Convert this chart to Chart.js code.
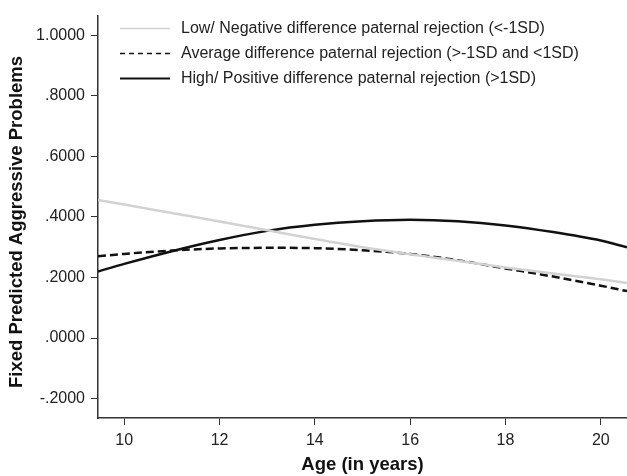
<!DOCTYPE html>
<html lang="en">
  <head>
    <meta charset="UTF-8" />
    <title>Fixed Predicted Aggressive Problems by Age</title>
    <script src="https://cdn.jsdelivr.net/npm/chart.js"></script>
    <style>
      body {
        margin: 0;
        background: #fff;
      }
      .wrap {
        width: 627px;
        height: 476px;
      }
    </style>
  </head>
  <body>
    <div class="wrap"><canvas id="chart" width="627" height="476"></canvas></div>
    <script>
      // ages (years) and fixed predicted values
      const ages = [9.45, 10, 11, 12, 13, 14, 15, 16, 17, 18, 19, 20, 20.55];
      const lowValues = [0.456, 0.441, 0.413, 0.385, 0.356, 0.327, 0.300, 0.277, 0.255, 0.233, 0.213, 0.194, 0.182];
      const avgValues = [0.270, 0.278, 0.289, 0.296, 0.298, 0.297, 0.290, 0.278, 0.257, 0.230, 0.203, 0.173, 0.155];
      const highValues = [0.220, 0.245, 0.287, 0.324, 0.354, 0.374, 0.386, 0.391, 0.386, 0.372, 0.350, 0.322, 0.300];

      const seriesNames = [
        "Low/ Negative difference paternal rejection (<-1SD)",
        "Average difference paternal rejection (>-1SD and <1SD)",
        "High/ Positive difference paternal rejection (>1SD)",
      ];
      const xTicks = [10, 12, 14, 16, 18, 20];
      const yTicks = [-0.2, 0, 0.2, 0.4, 0.6, 0.8, 1.0];
      const yTitle = "Fixed Predicted Aggressive Problems";

      const pts = (vals) => ages.map((a, i) => ({ x: a, y: vals[i] }));
      const font = "'Liberation Sans', Arial, Helvetica, sans-serif";

      // legend in the top-left corner of the plot + rotated y title
      const legendPlugin = {
        id: "cornerLegend",
        afterDraw(chart) {
          const ctx = chart.ctx;
          const rows = [28, 53, 78];
          ctx.save();
          chart.data.datasets.forEach((ds, i) => {
            ctx.beginPath();
            ctx.strokeStyle = ds.borderColor;
            ctx.lineWidth = ds.legendWidth;
            ctx.setLineDash(ds.legendDash);
            ctx.moveTo(120, rows[i] + 0.5);
            ctx.lineTo(170, rows[i] + 0.5);
            ctx.stroke();
            ctx.setLineDash([]);
            ctx.fillStyle = "#222";
            ctx.font = "16px " + font;
            ctx.textBaseline = "middle";
            ctx.fillText(ds.label, 181, rows[i] + 1);
          });

          ctx.translate(17, 222);
          ctx.rotate(-Math.PI / 2);
          ctx.fillStyle = "#111";
          ctx.font = "bold 18.5px " + font;
          ctx.textAlign = "center";
          ctx.textBaseline = "middle";
          ctx.fillText(yTitle, 0, 0);
          ctx.restore();
        },
      };

      new Chart(document.getElementById("chart"), {
        type: "line",
        data: {
          datasets: [
            {
              label: seriesNames[0],
              data: pts(lowValues),
              borderColor: "#d2d2d2",
              borderWidth: 2.5,
              legendWidth: 1.5,
              legendDash: [],
            },
            {
              label: seriesNames[1],
              data: pts(avgValues),
              borderColor: "#111",
              borderWidth: 2.5,
              borderDash: [8, 4],
              legendWidth: 1.5,
              legendDash: [5, 4],
            },
            {
              label: seriesNames[2],
              data: pts(highValues),
              borderColor: "#111",
              borderWidth: 2.5,
              legendWidth: 2,
              legendDash: [],
            },
          ],
        },
        options: {
          responsive: false,
          animation: false,
          layout: { padding: { left: 0, top: 14, right: 0, bottom: 0 } },
          elements: {
            point: { radius: 0 },
            line: { cubicInterpolationMode: "monotone", fill: false },
          },
          plugins: {
            legend: { display: false },
            tooltip: { enabled: false },
          },
          scales: {
            x: {
              type: "linear",
              min: 9.45,
              max: 20.55,
              afterBuildTicks: (s) => {
                s.ticks = xTicks.map((v) => ({ value: v }));
              },
              afterFit: (s) => {
                s.height = 58;
              },
              grid: { drawOnChartArea: false, tickLength: 7, color: "#333" },
              border: { color: "#333", width: 1.5 },
              ticks: {
                color: "#222",
                font: { family: font, size: 16 },
                padding: 6,
                maxRotation: 0,
              },
              title: {
                display: true,
                text: "Age (in years)",
                color: "#111",
                font: { family: font, size: 18.5, weight: "bold" },
                padding: { top: 0, bottom: 0 },
              },
            },
            y: {
              min: -0.264,
              max: 1.065,
              afterBuildTicks: (s) => {
                s.ticks = yTicks.map((v) => ({ value: v }));
              },
              afterFit: (s) => {
                s.width = 98;
              },
              grid: { drawOnChartArea: false, tickLength: 7, color: "#333" },
              border: { color: "#333", width: 1.5 },
              ticks: {
                color: "#222",
                font: { family: font, size: 16 },
                padding: 6,
                callback: (v) => v.toFixed(4).replace(/^(-?)0\./, "$1."),
              },
            },
          },
        },
        plugins: [legendPlugin],
      });
    </script>
  </body>
</html>
